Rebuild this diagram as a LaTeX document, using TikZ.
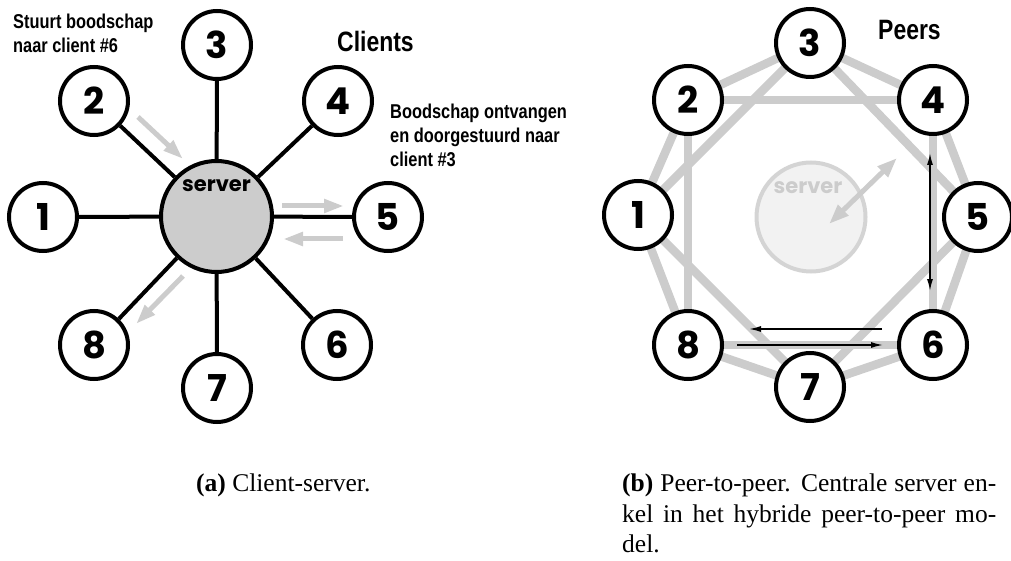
\documentclass[tikz,border=0pt]{standalone}
\usepackage{fontspec}
\setmainfont{Liberation Serif}
\newfontfamily\labfont[FakeStretch=0.82]{Liberation Sans}
\newfontfamily\numfont{Poppins}
\usetikzlibrary{arrows.meta,backgrounds}
\definecolor{ltgray}{RGB}{204,204,204}
\definecolor{ghostfill}{RGB}{242,242,242}
\definecolor{ghostline}{RGB}{212,212,212}

\begin{document}
\begin{tikzpicture}[x=1pt,y=-1pt,
  peer/.style={circle,draw=black,line width=4pt,minimum size=68pt,inner sep=0pt,
    fill=white,font=\numfont\bfseries\fontsize{37}{37}\selectfont},
  hub/.style={circle,draw=black,line width=4pt,minimum size=111pt,inner sep=0pt,fill=ltgray},
  ghost/.style={circle,draw=ghostline,line width=4pt,minimum size=109pt,inner sep=0pt,fill=ghostfill},
  hubtext/.style={anchor=base,inner sep=0pt,font=\numfont\bfseries\fontsize{21}{21}\selectfont},
  spoke/.style={line width=4pt},
  ring/.style={line width=8.5pt,draw=ltgray},
  flow/.style={line width=5pt,draw=ltgray,-{Triangle[length=20pt,width=13pt]}},
  flowboth/.style={line width=5pt,draw=ltgray,{Triangle[length=20pt,width=14pt]}-{Triangle[length=20pt,width=14pt]}},
  msg/.style={line width=1.5pt,-{Latex[length=12pt,width=6pt]}},
  msgboth/.style={line width=1.5pt,{Latex[length=12pt,width=6pt]}-{Latex[length=12pt,width=6pt]}},
  lbl/.style={anchor=base west,inner sep=0pt,font=\labfont\bfseries\fontsize{20}{24}\selectfont},
  ttl/.style={anchor=base west,inner sep=0pt,font=\labfont\bfseries\fontsize{28}{28}\selectfont},
  capt/.style={anchor=base west,inner sep=0pt,font=\fontsize{25.5}{30}\selectfont}]

\useasboundingbox (0,0) rectangle (1011,561);

% ---------- (a) client-server ----------
\node[hub] (srv) at (216.5,216.5) {};
\node[hubtext] (srvtxt) at (216.5,192) {server};
\node[peer] (c1) at (43,217) {1};
\node[peer] (c2) at (94,101) {2};
\node[peer] (c3) at (217,45) {3};
\node[peer] (c4) at (338,101) {4};
\node[peer] (c5) at (388,217) {5};
\node[peer] (c6) at (337,345) {6};
\node[peer] (c7) at (217,388) {7};
\node[peer] (c8) at (94,345) {8};
\foreach \i in {1,...,8} \draw[spoke] (srv) -- (c\i);

% message flow 2 -> server -> 5 -> server -> 8
\coordinate (f1a) at (138,117);  \coordinate (f1b) at (183,159);
\coordinate (f2a) at (282,206);  \coordinate (f2b) at (344,206);
\coordinate (f3a) at (343,239);  \coordinate (f3b) at (283,239);
\coordinate (f4a) at (183,276);  \coordinate (f4b) at (136,324);
\draw[flow] (f1a) -- (f1b);
\draw[flow] (f2a) -- (f2b);
\draw[flow] (f3a) -- (f3b);
\draw[flow] (f4a) -- (f4b);

\node[lbl] (la1) at (13,28.7) {Stuurt boodschap};
\node[lbl] (la2) at (13,52.7) {naar client \#6};
\node[ttl] (clients) at (337,52) {Clients};
\node[lbl] (lb1) at (390,119) {Boodschap ontvangen};
\node[lbl] (lb2) at (390,143) {en doorgestuurd naar};
\node[lbl] (lb3) at (390,167) {client \#3};

% ---------- (b) peer-to-peer ----------
\node[peer] (p1) at (638,215) {1};
\node[peer] (p2) at (688,100) {2};
\node[peer] (p3) at (810,43) {3};
\node[peer] (p4) at (933,100) {4};
\node[peer] (p5) at (978,217) {5};
\node[peer] (p6) at (933,345) {6};
\node[peer] (p7) at (810,387) {7};
\node[peer] (p8) at (688,345) {8};

\begin{scope}[on background layer]
  % outer ring
  \draw[ring] (p1.center) -- (p2.center) -- (p3.center) -- (p4.center) -- (p5.center)
     -- (p6.center) -- (p7.center) -- (p8.center) -- cycle;
  % square of chords
  \draw[ring] (p2.center) -- (p4.center) -- (p6.center) -- (p8.center) -- cycle;
  % diamond of chords
  \draw[ring] (p1.center) -- (p3.center) -- (p5.center) -- (p7.center) -- cycle;
  % optional central server
  \node[ghost] (gsrv) at (811,217) {};
  \node[hubtext,text=ltgray] (gsrvtxt) at (808,194) {server};
  \coordinate (g1) at (829,224);
  \coordinate (g2) at (897,158);
  \draw[flowboth] (g1) -- (g2);
\end{scope}

\coordinate (v1) at (930,153);  \coordinate (v2) at (930,291);
\coordinate (h1) at (882,329);  \coordinate (h2) at (749,329);
\coordinate (h3) at (737,345);  \coordinate (h4) at (883,345);
\draw[msgboth] (v1) -- (v2);
\draw[msg] (h1) -- (h2);
\draw[msg] (h3) -- (h4);

\node[ttl] (peers) at (878,40) {Peers};

% ---------- captions ----------
\node[capt] (capa) at (196,491) {\textbf{(a)} Client-server.};
\node[capt] (capb1) at (622,491.5) {\makebox[374pt][s]{\textbf{(b)} Peer-to-peer. Centrale server en-}};
\node[capt] (capb2) at (622,522) {\makebox[374pt][s]{kel in het hybride peer-to-peer mo-}};
\node[capt] (capb3) at (622,552) {del.};
\end{tikzpicture}
\end{document}
